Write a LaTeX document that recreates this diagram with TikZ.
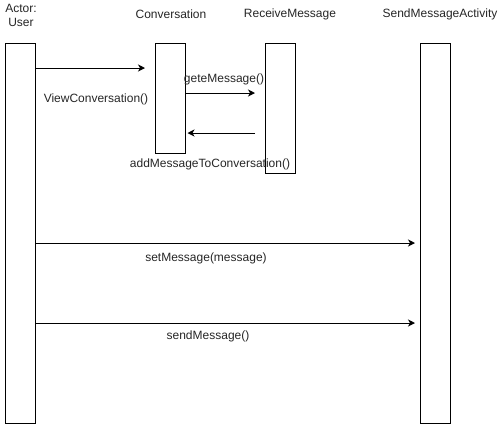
\documentclass[tikz,border=0pt]{standalone}
\usepackage{fontspec}
\setmainfont{Liberation Sans}
\usetikzlibrary{arrows.meta}

\begin{document}
\begin{tikzpicture}[x=1pt,y=-1pt,
  font=\fontsize{12}{14}\selectfont,
  lifeline/.style={draw, line width=1pt, fill=white, minimum width=30pt, inner sep=0pt},
  caption/.style={inner sep=0pt, text=black!85},
  msg/.style={line width=1pt, -{Stealth[length=7pt,width=7pt,inset=2pt]}}]
  \useasboundingbox (0,0) rectangle (498,424);

  % participant headers
  \node[caption, align=center] (hUser) at (21,15) {Actor:\\User};
  \node[caption] (hConv) at (171,14) {Conversation};
  \node[caption] (hRecv) at (290,14) {ReceiveMessage};
  \node[caption] (hSend) at (440,14) {SendMessageActivity};

  % activation bars
  \node[lifeline, minimum height=380pt] (user) at (20,233) {};
  \node[lifeline, minimum height=110pt] (conv) at (170,98) {};
  \node[lifeline, minimum height=130pt] (recv) at (280.5,108) {};
  \node[lifeline, minimum height=380pt] (send) at (435.5,233) {};

  % free ends of the messages
  \coordinate (m1) at (145,68);
  \coordinate (m2) at (255,93);
  \coordinate (m3) at (255,133);
  \coordinate (m4) at (415,243);
  \coordinate (m5) at (415,323);

  % messages
  \draw[msg] (user.east |- m1) -- (m1);
  \draw[msg] (conv.east |- m2) -- (m2);
  \draw[msg] (m3) -- ([xshift=2pt]conv.east |- m3);
  \draw[msg] (user.east |- m4) -- (m4);
  \draw[msg] (user.east |- m5) -- (m5);

  % message labels
  \node[caption] (lView) at (96,99) {ViewConversation()};
  \node[caption] (lGet) at (224,79) {geteMessage()};
  \node[caption] (lAdd) at (210,164) {addMessageToConversation()};
  \node[caption] (lSet) at (206,258) {setMessage(message)};
  \node[caption] (lSendMsg) at (208,336) {sendMessage()};
\end{tikzpicture}
\end{document}
